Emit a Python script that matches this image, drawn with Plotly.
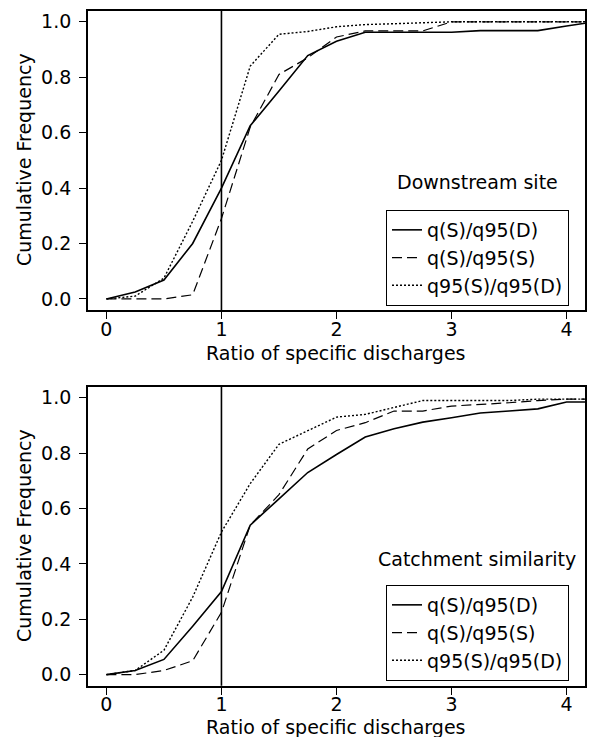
import plotly.graph_objects as go

# ---- data ----
ratio = [0, 0.25, 0.5, 0.75, 1.0, 1.25, 1.5, 1.75, 2.0, 2.25, 2.5, 2.75, 3.0, 3.25, 3.5, 3.75, 4.0, 4.25]

series_names = ["q(S)/q95(D)", "q(S)/q95(S)", "q95(S)/q95(D)"]

down_qS_q95D = [0.0, 0.025, 0.068, 0.20, 0.40, 0.625, 0.75, 0.878, 0.93, 0.962, 0.962, 0.962, 0.962, 0.968, 0.968, 0.968, 0.985, 1.0]
down_qS_q95S = [0.0, 0.0, 0.0, 0.015, 0.29, 0.62, 0.81, 0.87, 0.945, 0.967, 0.967, 0.967, 1.0, 1.0, 1.0, 1.0, 1.0, 1.0]
down_q95S_q95D = [0.0, 0.01, 0.075, 0.28, 0.50, 0.84, 0.955, 0.965, 0.982, 0.99, 0.993, 0.996, 1.0, 1.0, 1.0, 1.0, 1.0, 1.0]

catch_qS_q95D = [0.0, 0.015, 0.055, 0.175, 0.30, 0.54, 0.635, 0.73, 0.795, 0.858, 0.888, 0.912, 0.928, 0.945, 0.952, 0.96, 0.985, 0.985]
catch_qS_q95S = [0.0, 0.0, 0.015, 0.05, 0.225, 0.54, 0.65, 0.815, 0.882, 0.91, 0.952, 0.952, 0.97, 0.975, 0.982, 0.99, 0.995, 0.995]
catch_q95S_q95D = [0.0, 0.015, 0.088, 0.28, 0.515, 0.69, 0.832, 0.88, 0.93, 0.94, 0.964, 0.99, 0.99, 0.99, 0.99, 0.995, 0.995, 0.995]

panel_titles = ["Downstream site", "Catchment similarity"]
x_ticks = [0, 1, 2, 3, 4]
y_ticks = [0.0, 0.2, 0.4, 0.6, 0.8, 1.0]
x_title = "Ratio of specific discharges"
y_title = "Cumulative Frequency"

# ---- figure ----
W, H = 590, 737
FONT = "DejaVu Sans, Liberation Sans, Arial, sans-serif"
FS = 19

styles = [
    dict(color="black", width=1.6, dash="solid"),
    dict(color="black", width=1.2, dash="10px,5px"),
    dict(color="black", width=1.4, dash="2px,2px"),
]

fig = go.Figure()

panels = [
    (["x", "y"], [down_qS_q95D, down_qS_q95S, down_q95S_q95D], "legend"),
    (["x2", "y2"], [catch_qS_q95D, catch_qS_q95S, catch_q95S_q95D], "legend2"),
]
for (xa, ya), data, leg in panels:
    for name, vals, st in zip(series_names, data, styles):
        fig.add_trace(go.Scatter(
            x=ratio, y=vals, mode="lines", name=name, line=st,
            xaxis=xa, yaxis=ya, legend=leg, showlegend=True,
        ))


def px_x(p):
    return p / W


def px_y(p):
    return (H - p) / H


x_dom = [px_x(88), px_x(585)]
top_dom = [px_y(310), px_y(10.7)]
bot_dom = [px_y(685.7), px_y(386.7)]

axis_common = dict(
    showline=True, linecolor="black", linewidth=1.8, mirror=True,
    ticks="outside", ticklen=7, tickwidth=1.4, tickcolor="black",
    showgrid=False, zeroline=False, automargin=False,
    tickfont=dict(family=FONT, size=FS, color="black"),
)

legend_common = dict(
    xanchor="left", yanchor="top",
    bordercolor="black", borderwidth=1, bgcolor="white",
    font=dict(family=FONT, size=FS, color="black"), itemwidth=30, tracegroupgap=0,
)

fig.update_layout(
    width=W, height=H,
    margin=dict(l=0, r=0, t=0, b=0),
    paper_bgcolor="white", plot_bgcolor="white",
    font=dict(family=FONT, size=FS, color="black"),
    xaxis=dict(domain=x_dom, anchor="y", range=[-0.16, 4.16], tickvals=x_ticks,
               ticklabelstandoff=-6, **axis_common),
    yaxis=dict(domain=top_dom, anchor="x", range=[-0.04, 1.04], tickvals=y_ticks,
               tickformat=".1f", ticklabelstandoff=4, **axis_common),
    xaxis2=dict(domain=x_dom, anchor="y2", range=[-0.16, 4.16], tickvals=x_ticks,
                ticklabelstandoff=-6, **axis_common),
    yaxis2=dict(domain=bot_dom, anchor="x2", range=[-0.04, 1.04], tickvals=y_ticks,
                tickformat=".1f", ticklabelstandoff=4, **axis_common),
    legend=dict(x=px_x(386), y=px_y(210), **legend_common),
    legend2=dict(x=px_x(386), y=px_y(585), **legend_common),
    showlegend=True,
)

# reference vertical line at ratio = 1
for xa, ya in [("x", "y"), ("x2", "y2")]:
    fig.add_shape(type="line", xref=xa, yref=f"{ya} domain", x0=1, x1=1, y0=0, y1=1,
                  line=dict(color="black", width=1.6))

# panel labels
fig.add_annotation(text=panel_titles[0], xref="paper", yref="paper", x=px_x(477), y=px_y(182),
                   showarrow=False, font=dict(family=FONT, size=FS), xanchor="center", yanchor="middle")
fig.add_annotation(text=panel_titles[1], xref="paper", yref="paper", x=px_x(477), y=px_y(559),
                   showarrow=False, font=dict(family=FONT, size=FS), xanchor="center", yanchor="middle")

# axis titles
for yc in [353, 727]:
    fig.add_annotation(text=x_title, xref="paper", yref="paper", x=px_x(336.5), y=px_y(yc),
                       showarrow=False, font=dict(family=FONT, size=FS), xanchor="center", yanchor="middle")
for yc in [160, 536]:
    fig.add_annotation(text=y_title, xref="paper", yref="paper", x=px_x(24), y=px_y(yc),
                       showarrow=False, textangle=-90, font=dict(family=FONT, size=FS),
                       xanchor="center", yanchor="middle")

fig.write_html("out.html", config={"displayModeBar": False},
               post_script="document.body.style.margin='0px';")
